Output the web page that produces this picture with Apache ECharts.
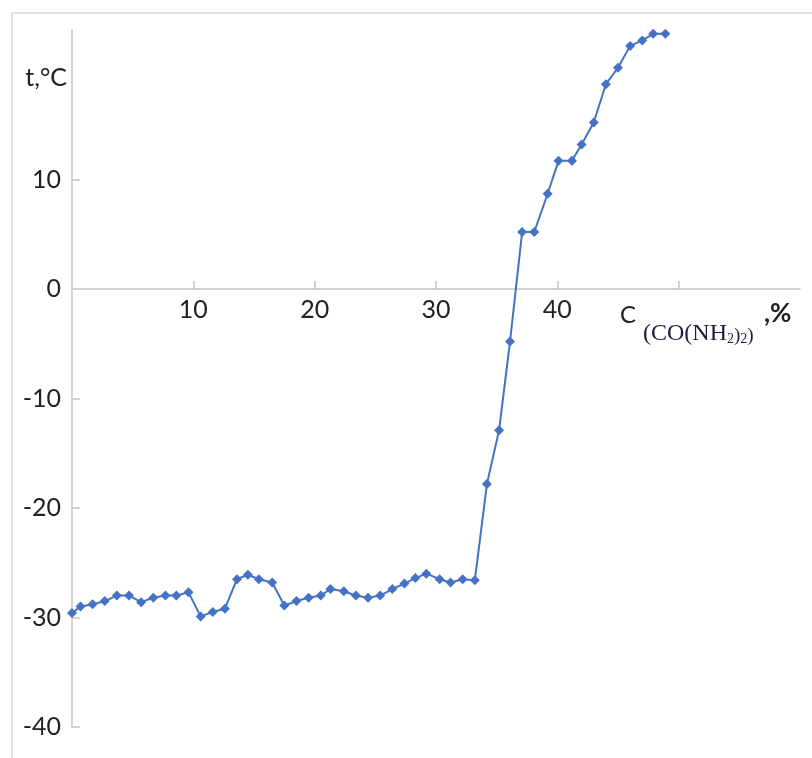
<!DOCTYPE html>
<html>
<head>
<meta charset="utf-8">
<script src="https://cdn.jsdelivr.net/npm/echarts@6/dist/echarts.min.js"></script>
<style>
  html, body { margin: 0; padding: 0; background: #fff; }
  #chart { width: 812px; height: 758px; }
</style>
</head>
<body>
<div id="chart"></div>
<script>
// concentration, %
const concentration = [0, 0.7, 1.7, 2.7, 3.7, 4.7, 5.7, 6.7, 7.7, 8.6, 9.6, 10.6, 11.6, 12.6, 13.6, 14.5, 15.4, 16.5, 17.5, 18.5, 19.5, 20.5, 21.3, 22.4, 23.4, 24.4, 25.4, 26.4, 27.4, 28.3, 29.2, 30.3, 31.2, 32.2, 33.2, 34.2, 35.2, 36.1, 37.1, 38.1, 39.2, 40.1, 41.2, 42.0, 43.0, 44.0, 45.0, 46.0, 47.0, 47.9, 48.9];
// temperature, °C
const temperature = [-29.6, -29.0, -28.8, -28.5, -28.0, -28.0, -28.6, -28.2, -28.0, -28.0, -27.7, -29.9, -29.5, -29.2, -26.5, -26.1, -26.5, -26.8, -28.9, -28.5, -28.2, -28.0, -27.4, -27.6, -28.0, -28.2, -28.0, -27.4, -26.9, -26.4, -26.0, -26.5, -26.8, -26.5, -26.6, -17.8, -12.9, -4.8, 5.2, 5.2, 8.7, 11.7, 11.7, 13.2, 15.2, 18.7, 20.2, 22.2, 22.7, 23.3, 23.3];
const xTickValues = [10, 20, 30, 40, 50];
const xTickLabels = [10, 20, 30, 40];
const yTickValues = [-40, -30, -20, -10, 10];
const yTickLabels = [-40, -30, -20, -10, 0, 10];

const points = concentration.map((c, i) => [c, temperature[i]]);
const axisGrey = '#c4c4c4';
const textColor = '#222';
const font = 'Lato';
const gridTop = 30, gridBottom = 31, chartH = 758;
const yMin = -40, yMax = 23.65;
// distance (px) from grid bottom to the zero line, so the x axis sits at t = 0
const plotH = chartH - gridTop - gridBottom;
const zeroOffset = -plotH * (0 - yMin) / (yMax - yMin);

const chart = echarts.init(document.getElementById('chart'));
chart.setOption({
  animation: false,
  backgroundColor: '#fff',
  grid: { left: 72, right: 12, top: gridTop, bottom: gridBottom },
  xAxis: {
    type: 'value', min: 0, max: 60, interval: 10,
    offset: zeroOffset,
    axisLine: { show: true, onZero: false, lineStyle: { color: axisGrey, width: 1.5 } },
    axisTick: { show: true, inside: true, length: 8, customValues: xTickValues, lineStyle: { color: axisGrey, width: 1.5 } },
    axisLabel: { customValues: xTickLabels, margin: 8, fontFamily: font, fontSize: 25, color: textColor },
    splitLine: { show: false }
  },
  yAxis: {
    type: 'value', min: yMin, max: yMax, interval: 10,
    axisLine: { show: true, onZero: false, lineStyle: { color: axisGrey, width: 1.5 } },
    axisTick: { show: true, inside: true, length: 8, customValues: yTickValues, lineStyle: { color: axisGrey, width: 1.5 } },
    axisLabel: { customValues: yTickLabels, margin: 11, fontFamily: font, fontSize: 25, color: textColor },
    splitLine: { show: false }
  },
  graphic: [
    { type: 'rect', silent: true, z: -1, shape: { x: 12, y: 13, width: 900, height: 900 },
      style: { fill: 'none', stroke: '#d9d9d9', lineWidth: 1.5 } },
    { type: 'text', x: 67, y: 78, style: { text: 't,°C', font: '25px Lato', fill: textColor, align: 'right', verticalAlign: 'middle' } },
    { type: 'text', x: 620, y: 315, style: { text: 'C', font: '24px Lato', fill: textColor, align: 'left', verticalAlign: 'middle' } },
    { type: 'text', x: 643, y: 346, style: {
        text: '{a|(CO(NH}{b|2}{c|)}{b|2}{c|)}',
        align: 'left', verticalAlign: 'bottom', fill: '#1f1a40',
        rich: {
          a: { fontFamily: 'Liberation Serif', fontSize: 24, lineHeight: 24, verticalAlign: 'bottom', fill: '#1f1a40' },
          b: { fontFamily: 'Liberation Serif', fontSize: 14, lineHeight: 14, verticalAlign: 'bottom', fill: '#1f1a40' },
          c: { fontFamily: 'Liberation Serif', fontSize: 19, lineHeight: 19, verticalAlign: 'bottom', fill: '#1f1a40' }
        } } },
    { type: 'text', x: 764, y: 314, style: { text: ',%', font: 'bold 26px Lato', fill: textColor, align: 'left', verticalAlign: 'middle' } }
  ],
  series: [{
    type: 'line',
    data: points,
    clip: false,
    symbol: 'diamond',
    symbolSize: 10,
    lineStyle: { color: '#4472C4', width: 2 },
    itemStyle: { color: '#4472C4' }
  }]
});
</script>
</body>
</html>
